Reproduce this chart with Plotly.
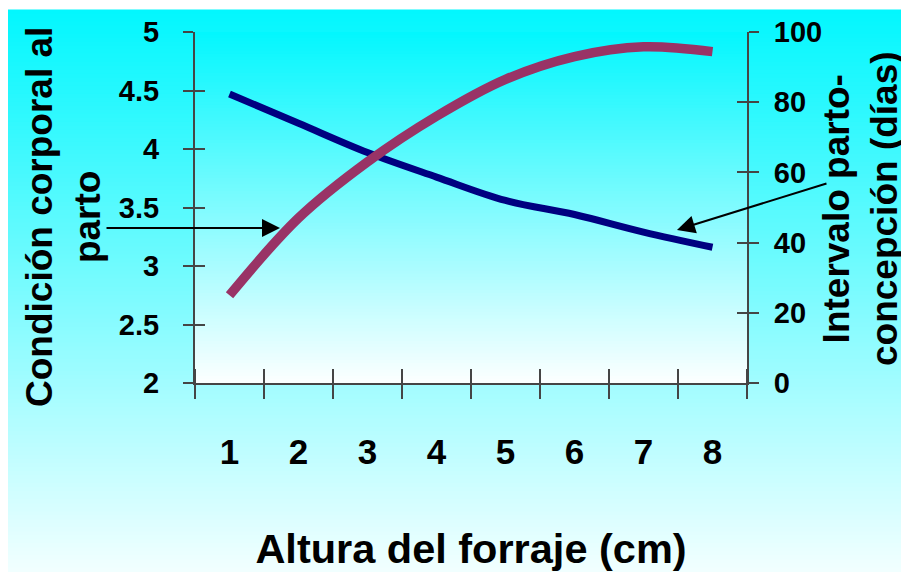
import plotly.graph_objects as go

# ---- data ----
x_vals = [1, 2, 3, 4, 5, 6, 7, 8]
x_labels = ["1", "2", "3", "4", "5", "6", "7", "8"]
condicion_corporal = [4.47, 4.22, 3.97, 3.76, 3.56, 3.44, 3.29, 3.16]
intervalo_parto = [25, 47, 63, 76, 86.5, 93, 95.8, 94.4]
left_ticks = [2, 2.5, 3, 3.5, 4, 4.5, 5]
right_ticks = [0, 20, 40, 60, 80, 100]

FONT = "Liberation Sans, Arial, sans-serif"
AXC = "#454545"
W, H = 901, 564
ML, MR, MT, MB = 187, 162, 24, 189
PW, PH = W - ML - MR, H - MT - MB


def px_to_paper_x(px):
    return (px - ML) / PW


def px_to_paper_y(py):
    return (H - MB - py) / PH


def lerp(c0, c1, t):
    return "rgb(%d,%d,%d)" % tuple(round(a + (b - a) * t) for a, b in zip(c0, c1))


shapes = []
# page gradient
top_c = (2, 247, 254)
page_bot = (242, 255, 255)
N = 140
y_top, y_bot = 2, H
for i in range(N):
    a = y_top + (y_bot - y_top) * i / N
    b = y_top + (y_bot - y_top) * (i + 1) / N
    shapes.append(dict(type="rect", xref="paper", yref="paper", layer="below",
                       x0=px_to_paper_x(-2), x1=px_to_paper_x(W + 2),
                       y0=px_to_paper_y(a - 0.6), y1=px_to_paper_y(b + 0.6),
                       fillcolor=lerp(top_c, page_bot, (i + 0.5) / N), line=dict(width=0)))
# plot-area gradient
plot_bot = (252, 255, 255)
M = 110
for i in range(M):
    y0 = 1 - i / M
    y1 = 1 - (i + 1) / M
    shapes.append(dict(type="rect", xref="paper", yref="paper", layer="below",
                       x0=0, x1=1, y0=min(1, y0 + 0.002), y1=max(0, y1 - 0.002),
                       fillcolor=lerp(top_c, plot_bot, (i + 0.5) / M), line=dict(width=0)))

fig = go.Figure()
fig.add_trace(go.Scatter(x=x_vals, y=condicion_corporal, mode="lines",
                         line=dict(color="#000080", width=7, shape="spline"),
                         name="Condición corporal al parto", yaxis="y"))
fig.add_trace(go.Scatter(x=x_vals, y=intervalo_parto, mode="lines",
                         line=dict(color="#993366", width=9.5, shape="spline"),
                         name="Intervalo parto-concepción (días)", yaxis="y2"))
# invisible helpers so the overlay tick axes exist
for xa, ya, yv in [("x2", "y", condicion_corporal), ("x", "y3", condicion_corporal), ("x", "y4", intervalo_parto)]:
    fig.add_trace(go.Scatter(x=x_vals[:1], y=yv[:1], xaxis=xa, yaxis=ya, mode="markers",
                             marker=dict(opacity=0), hoverinfo="skip", showlegend=False))

tickfont_y = dict(family=FONT, size=29, color="black", weight="bold")

fig.update_layout(
    width=W, height=H,
    margin=dict(l=ML, r=MR, t=MT, b=MB),
    paper_bgcolor="white", plot_bgcolor="rgba(0,0,0,0)",
    showlegend=False,
    shapes=shapes,
    xaxis=dict(range=[0.5, 8.5], tickvals=x_vals, ticktext=x_labels, ticks="",
               showgrid=False, zeroline=False, showline=True, linecolor=AXC, linewidth=2,
               tickfont=dict(family=FONT, size=35, color="black", weight="bold"),
               ticklabelstandoff=37,
               minor=dict(ticks="outside", tick0=0.5, dtick=1, ticklen=14, tickwidth=2,
                          tickcolor=AXC, showgrid=False),
               title=dict(text="Altura del forraje (cm)", standoff=71,
                          font=dict(family=FONT, size=41.5, color="black", weight="bold")),
               automargin=False, fixedrange=True),
    xaxis2=dict(overlaying="x", anchor="y", range=[0.5, 8.5], showticklabels=False, ticks="",
                showgrid=False, zeroline=False, showline=False,
                minor=dict(ticks="inside", tick0=0.5, dtick=1, ticklen=14, tickwidth=2,
                           tickcolor=AXC, showgrid=False), automargin=False),
    yaxis=dict(range=[2, 5], tickvals=left_ticks, ticks="outside", ticklen=10, tickwidth=2,
               tickcolor=AXC, showgrid=False, zeroline=False, showline=True, linecolor=AXC,
               linewidth=2, tickfont=tickfont_y, ticklabelstandoff=18, automargin=False),
    yaxis3=dict(overlaying="y", anchor="x", side="left", range=[2, 5], tickvals=left_ticks,
                ticks="inside", ticklen=10, tickwidth=2, tickcolor=AXC, showticklabels=False,
                showgrid=False, zeroline=False, showline=False, automargin=False),
    yaxis2=dict(overlaying="y", anchor="x", side="right", range=[0, 100], tickvals=right_ticks,
                ticks="outside", ticklen=10, tickwidth=2, tickcolor=AXC, showgrid=False,
                zeroline=False, showline=True, linecolor=AXC, linewidth=2,
                tickfont=tickfont_y, ticklabelstandoff=9, automargin=False),
    yaxis4=dict(overlaying="y", anchor="x", side="right", range=[0, 100], tickvals=right_ticks,
                ticks="inside", ticklen=10, tickwidth=2, tickcolor=AXC, showticklabels=False,
                showgrid=False, zeroline=False, showline=False, automargin=False),
    annotations=[
        dict(text="Condición corporal al<br>parto", textangle=-90, showarrow=False,
             xref="paper", yref="paper", x=px_to_paper_x(63 - 8), y=px_to_paper_y(217 - 8),
             xanchor="center", yanchor="middle", align="center",
             font=dict(family=FONT, size=37, color="black", weight="bold")),
        dict(text="Intervalo parto-<br>concepción (días)", textangle=-90, showarrow=False,
             xref="paper", yref="paper", x=px_to_paper_x(860 - 8), y=px_to_paper_y(209 - 8),
             xanchor="center", yanchor="middle", align="center",
             font=dict(family=FONT, size=37, color="black", weight="bold")),
        dict(x=1.732, y=3.325, xref="x", yref="y", ax=-175, ay=0, text="", showarrow=True,
             arrowhead=2, arrowsize=1.8, arrowwidth=2, arrowcolor="black"),
        dict(x=7.485, y=3.308, xref="x", yref="y", ax=151, ay=-47, text="", showarrow=True,
             arrowhead=2, arrowsize=1.8, arrowwidth=2, arrowcolor="black"),
    ],
)

fig.write_html("out.html")
